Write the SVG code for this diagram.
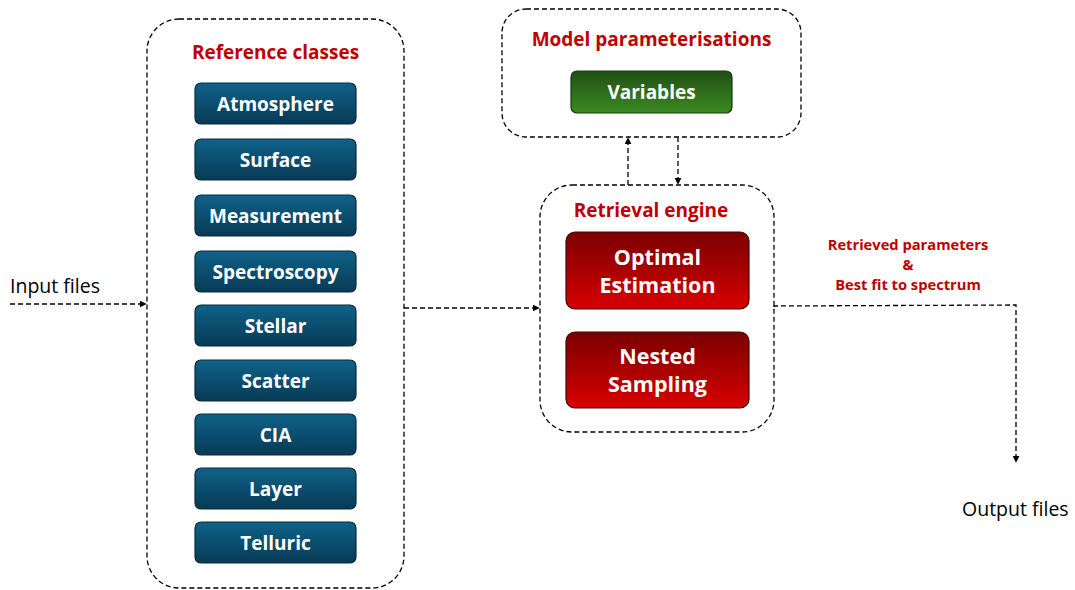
<svg xmlns="http://www.w3.org/2000/svg" width="1075" height="590" viewBox="0 0 1075 590">
<defs>
<linearGradient id="gBlue" x1="0" y1="0" x2="0" y2="1"><stop offset="0" stop-color="#0F6289"/><stop offset="1" stop-color="#073A55"/></linearGradient>
<linearGradient id="gGreen" x1="0" y1="0" x2="0" y2="1"><stop offset="0" stop-color="#214F14"/><stop offset="1" stop-color="#3B8A22"/></linearGradient>
<linearGradient id="gRed" x1="0" y1="0" x2="0" y2="1"><stop offset="0" stop-color="#7A0000"/><stop offset="1" stop-color="#D80000"/></linearGradient>
<marker id="arr" viewBox="0 0 10 10" refX="9" refY="5" markerWidth="7" markerHeight="7" orient="auto" markerUnits="userSpaceOnUse"><path d="M0,0 L10,5 L0,10 z" fill="#000"/></marker>
</defs>
<style>
.cont{fill:#fff;stroke:#000;stroke-width:1.3;stroke-dasharray:5 3}
.blue{fill:url(#gBlue);stroke:#0A2A3A;stroke-width:1.2}
.green{fill:url(#gGreen);stroke:#163A10;stroke-width:1.2}
.red{fill:url(#gRed);stroke:#3A0A0A;stroke-width:1.2}
.bt{font-family:"Open Sans","Liberation Sans",sans-serif;font-weight:700;font-size:19px;fill:#fff;text-anchor:middle}
.rt{font-family:"Open Sans","Liberation Sans",sans-serif;font-weight:700;font-size:21.5px;fill:#fff;text-anchor:middle}
.title{font-family:"Open Sans","Liberation Sans",sans-serif;font-weight:700;font-size:19px;fill:#C00000;text-anchor:middle}
.lbl{font-family:"Open Sans","Liberation Sans",sans-serif;font-weight:700;font-size:14.7px;fill:#C00000;text-anchor:middle}
.io{font-family:"Open Sans","Liberation Sans",sans-serif;font-size:19.5px;fill:#000}
.conn{fill:none;stroke:#000;stroke-width:1.3;stroke-dasharray:5 3}
</style>
<g id="reference-classes">
<rect class="cont" x="147" y="19" width="257" height="569" rx="32"/>
<text class="title" x="275.500" y="59">Reference classes</text>
</g>
<g id="atmosphere"><rect class="blue" x="195" y="83" width="161" height="41" rx="6"/><text class="bt" x="275.500" y="110.500">Atmosphere</text></g>
<g id="surface"><rect class="blue" x="195" y="139" width="161" height="41" rx="6"/><text class="bt" x="275.500" y="166.500">Surface</text></g>
<g id="measurement"><rect class="blue" x="195" y="195" width="161" height="41" rx="6"/><text class="bt" x="275.500" y="222.500">Measurement</text></g>
<g id="spectroscopy"><rect class="blue" x="195" y="251" width="161" height="41" rx="6"/><text class="bt" x="275.500" y="278.500">Spectroscopy</text></g>
<g id="stellar"><rect class="blue" x="195" y="305" width="161" height="41" rx="6"/><text class="bt" x="275.500" y="332.500">Stellar</text></g>
<g id="scatter"><rect class="blue" x="195" y="360" width="161" height="41" rx="6"/><text class="bt" x="275.500" y="387.500">Scatter</text></g>
<g id="cia"><rect class="blue" x="195" y="414" width="161" height="41" rx="6"/><text class="bt" x="275.500" y="441.500">CIA</text></g>
<g id="layer"><rect class="blue" x="195" y="468" width="161" height="41" rx="6"/><text class="bt" x="275.500" y="495.500">Layer</text></g>
<g id="telluric"><rect class="blue" x="195" y="522" width="161" height="41" rx="6"/><text class="bt" x="275.500" y="549.500">Telluric</text></g>
<g id="model-parameterisations">
<rect class="cont" x="502" y="9" width="299" height="128" rx="24"/>
<text class="title" x="651.500" y="46">Model parameterisations</text>
</g>
<g id="variables"><rect class="green" x="571" y="71" width="161" height="42" rx="6"/><text class="bt" x="651.500" y="98.500">Variables</text></g>
<g id="retrieval-engine">
<rect class="cont" x="540" y="185" width="234" height="247" rx="32"/>
<text class="title" x="651" y="217">Retrieval engine</text>
</g>
<g id="optimal-estimation"><rect class="red" x="566" y="232" width="183" height="77" rx="9"/><text class="rt" x="657.500" y="264.500">Optimal</text><text class="rt" x="657.500" y="292.500">Estimation</text></g>
<g id="nested-sampling"><rect class="red" x="566" y="332" width="183" height="76" rx="9"/><text class="rt" x="657.500" y="363.500">Nested</text><text class="rt" x="657.500" y="391.500">Sampling</text></g>
<g id="input-files"><text class="io" x="10" y="293">Input files</text></g>
<g id="output-files"><text class="io" x="962" y="516">Output files</text></g>
<g id="result-label">
<text class="lbl" x="908" y="250">Retrieved parameters</text>
<text class="lbl" x="908" y="270">&amp;</text>
<text class="lbl" x="908" y="290">Best fit to spectrum</text>
</g>
<g id="connectors">
<path class="conn" d="M10,304 L146,304" marker-end="url(#arr)"/>
<path class="conn" d="M404,308 L539,308" marker-end="url(#arr)"/>
<path class="conn" d="M628,185 L628,138" marker-end="url(#arr)"/>
<path class="conn" d="M678,137 L678,184" marker-end="url(#arr)"/>
<path class="conn" d="M774,307 L774,306 L1016,305 L1016,462" marker-end="url(#arr)"/>
</g>
</svg>
